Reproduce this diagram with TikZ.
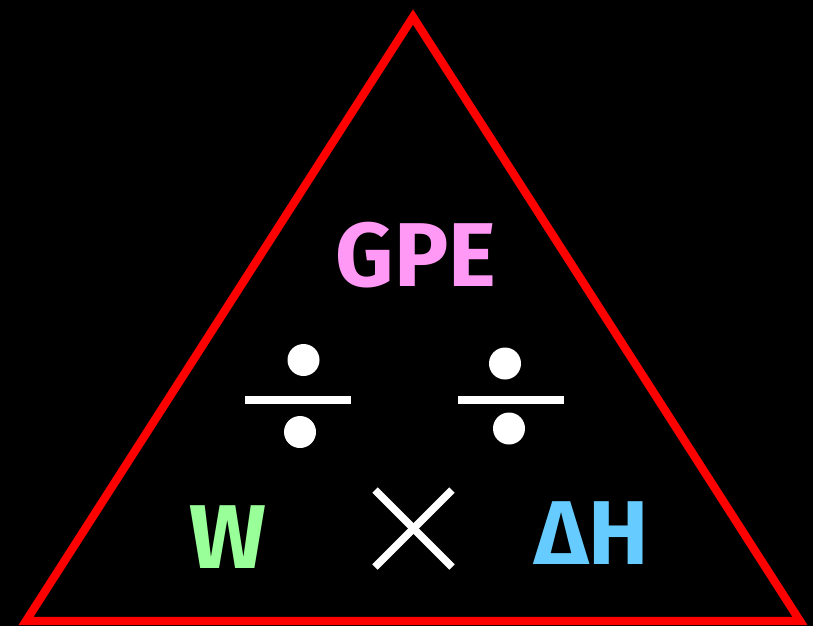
\documentclass[tikz,border=0pt]{standalone}
\usepackage{fontspec}
\setmainfont{Fira Sans}
\usepackage{tikz}
\usetikzlibrary{positioning}
\definecolor{edge}{HTML}{FF0000}
\definecolor{gpepink}{HTML}{FF99F5}
\definecolor{wgreen}{HTML}{99FF99}
\definecolor{hblue}{HTML}{66CCFF}
\tikzset{
  qty/.style={anchor=base,inner sep=0pt,font=\fontsize{68}{76}\selectfont\bfseries},
  bar/.style={white,line width=5.8pt},
  dot/.style={white},
}
\begin{document}
\begin{tikzpicture}[x=0.75pt,y=-0.75pt]
  % black page
  \fill[black](0,0)rectangle(813,626);
  \useasboundingbox(0,0)rectangle(813,626);

  % the triangle
  \coordinate(apex)at(413,17);
  \coordinate(bl)at(26,621);
  \coordinate(br)at(800,621);
  \draw[edge,line width=6.2pt,line join=miter](apex)--(br)--(bl)--cycle;

  % quantities
  \node[qty,gpepink](gpe)at(416,286){GPE};
  \node[qty,wgreen](w)at(228,568){W};
  \node[qty,hblue](dh)at(592,564){ΔH};

  % divide signs
  \draw[bar](245,400)--(351,400);
  \fill[dot](303.5,360)circle(16);
  \fill[dot](300,432)circle(16);
  \draw[bar](458,400)--(564,400);
  \fill[dot](505,363.5)circle(16);
  \fill[dot](509,428.5)circle(16);

  % times sign
  \draw[bar](375,490)--(452,567);
  \draw[bar](452,490)--(375,567);
\end{tikzpicture}
\end{document}
